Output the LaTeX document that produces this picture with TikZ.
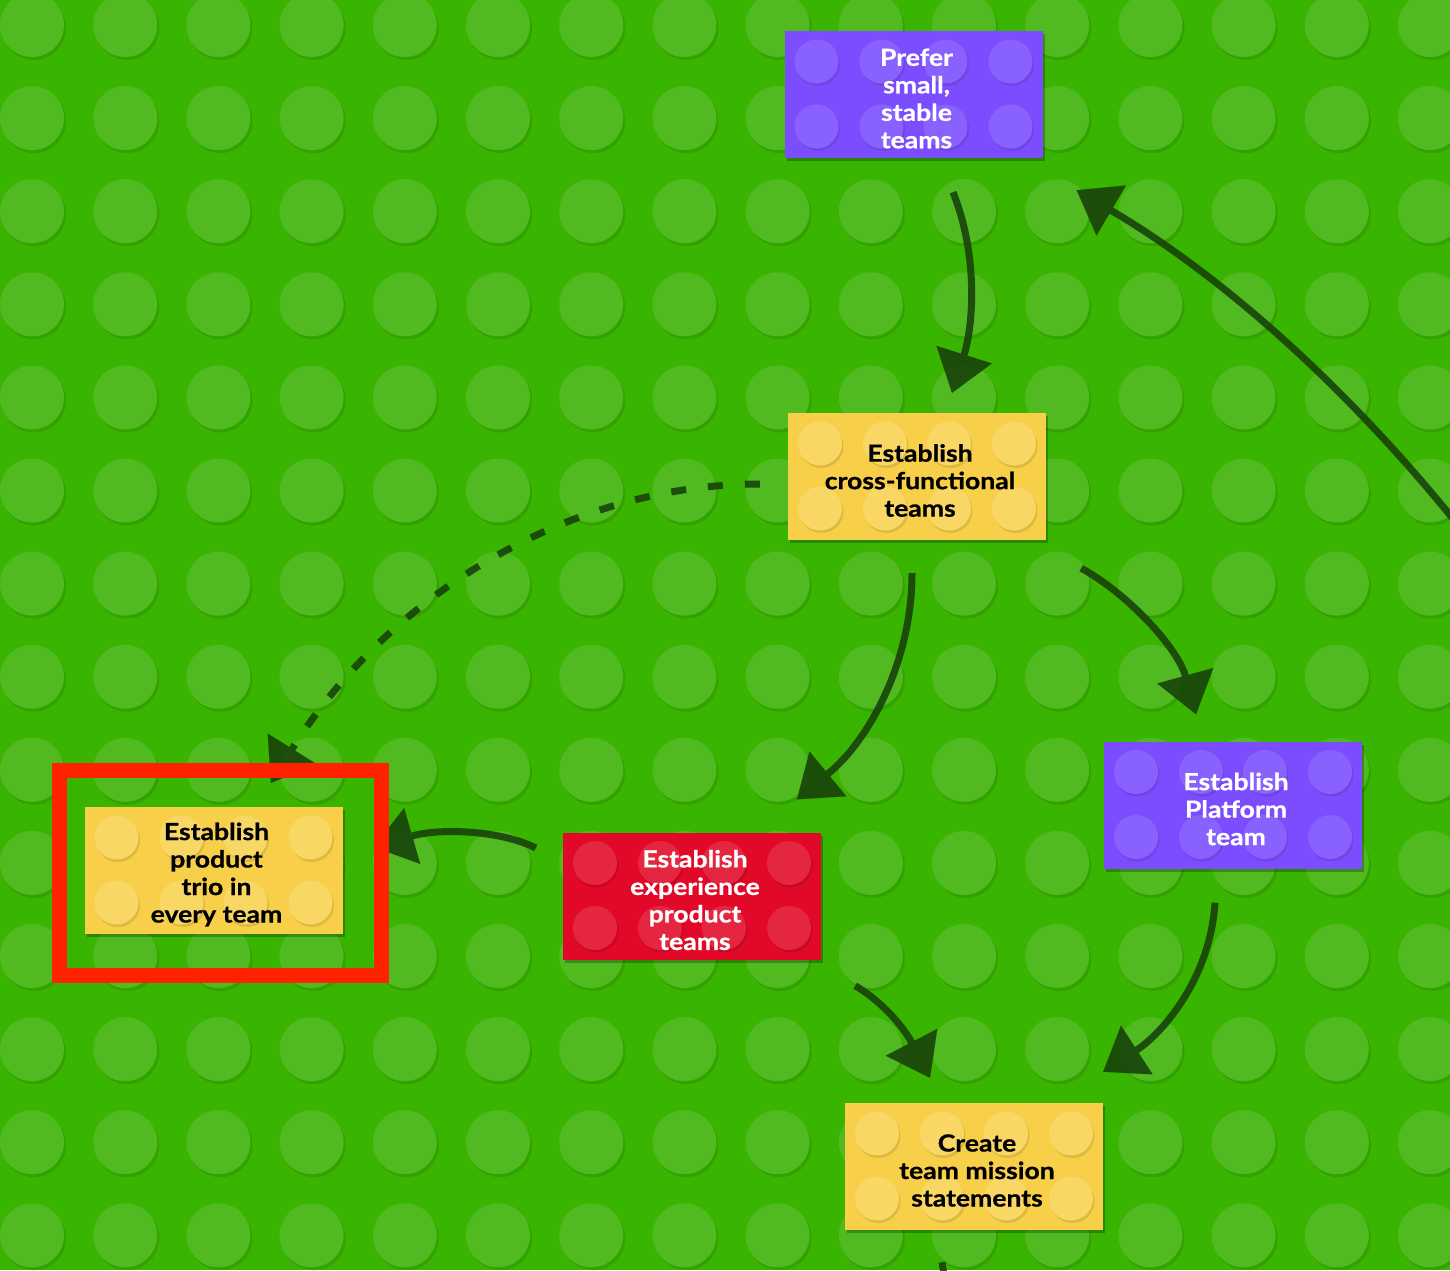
\documentclass[tikz,border=0pt]{standalone}
\usepackage{fontspec}
\setmainfont{Lato}[BoldFeatures={FakeStretch=1.13, FakeBold=0.8}]
\usetikzlibrary{arrows.meta,calc,shadows}
\definecolor{bgc}{RGB}{57,180,0}
\definecolor{studc}{RGB}{80,186,32}
\definecolor{purp}{RGB}{124,77,255}
\definecolor{purpstud}{RGB}{136,97,255}
\definecolor{redb}{RGB}{225,8,40}
\definecolor{redstud}{RGB}{228,38,64}
\definecolor{yel}{RGB}{247,207,72}
\definecolor{yelstud}{RGB}{249,215,100}
\definecolor{framec}{RGB}{255,34,0}
\definecolor{arrowc}{RGB}{22,60,10}
\newcommand{\mybrick}[7]{%
  \node[brick, fill=#3] (#1) at (#2) {};
  \foreach \dx in {-97,-32,32,97} {
    \foreach \dy in {-33,32} {
      \fill[black, opacity=0.10] ($(#1.center)+(\dx+1.5,\dy+2.5)$) circle (22pt);
      \fill[#4] ($(#1.center)+(\dx,\dy)$) circle (22pt);
    }
  }
  \node[brtext, text=#5] (#6) at ($(#1.center)+(3,4)$) {#7};
}
\begin{document}
\begin{tikzpicture}[x=1pt, y=-1pt,
  brick/.style={minimum width=258pt, minimum height=127pt, inner sep=0pt, draw=none,
    drop shadow={shadow xshift=2pt, shadow yshift=-3pt, opacity=0.25, fill=black}},
  brtext/.style={align=center, inner sep=0pt, font=\fontsize{23.5}{27.5}\selectfont\bfseries},
  conn/.style={line width=7pt, draw=arrowc, opacity=0.85,
    -{Triangle[length=40pt, width=58pt, line width=0.01pt]}},
  dashconn/.style={conn, dash pattern=on 15pt off 22pt},
  plainconn/.style={line width=7pt, draw=arrowc, opacity=0.85},
  hlframe/.style={draw=framec, line width=15pt, minimum width=322pt, minimum height=204.5pt, inner sep=0pt}
]
\clip (0,0) rectangle (1450,1270);
\fill[bgc] (0,0) rectangle (1450,1270);
% studs of the base plate
\foreach \i in {0,...,15} {
  \foreach \j in {0,...,13} {
    \fill[black, opacity=0.10] ({32+93.2*\i+2},{25+93.1*\j+3}) circle (32pt);
    \fill[studc] ({32+93.2*\i},{25+93.1*\j}) circle (32pt);
  }
}
% bricks
\mybrick{prefer}{913.5,94.5}{purp}{purpstud}{white}{prefer-t}{Prefer\\small,\\stable\\teams}
\mybrick{cross}{917,476.5}{yel}{yelstud}{black}{cross-t}{Establish\\cross-functional\\teams}
\mybrick{platform}{1233,805}{purp}{purpstud}{white}{platform-t}{Establish\\Platform\\team}
\mybrick{trio}{213.5,870.5}{yel}{yelstud}{black}{trio-t}{Establish\\product\\trio in\\every team}
\mybrick{exper}{692,896}{redb}{redstud}{white}{exper-t}{Establish\\experience\\product\\teams}
\mybrick{create}{974,1166.5}{yel}{yelstud}{black}{create-t}{Create\\team mission\\statements}
% free ends
\coordinate (offR) at (1470,540);
\coordinate (offB) at (948,1300);
% connectors
\draw[conn] ($(prefer.south)+(39.5,34)$) .. controls +(27,68) and +(20,-63) .. ($(cross.north)+(35,-20)$);
\draw[conn] (offR) .. controls +(-110,-140) and +(153,90) .. ($(prefer.south east)+(34,32)$);
\draw[dashconn] ($(cross.west)+(-28,7.5)$) .. controls +(-190,0) and +(117,-187) .. ($(trio.north)+(57.5,-24)$);
\draw[conn] ($(cross.south)+(-5,33)$) .. controls +(0,87) and +(73,-60) .. ($(exper.north)+(105,-33)$);
\draw[conn] ($(cross.south east)+(35,28)$) .. controls +(49,27) and +(-18,-65) .. ($(platform.north)+(-37,-27)$);
\draw[conn] ($(exper.west)+(-27,-48)$) .. controls +(-36,-18) and +(66,-19) .. ($(trio.east)+(31,-23.5)$);
\draw[conn] ($(exper.south east)+(34,26)$) .. controls +(30,18) and +(-25,-48) .. ($(create.north)+(-44,-25)$);
\draw[conn] ($(platform.south)+(-18,34)$) .. controls +(-5,78) and +(57,-37) .. ($(create.north east)+(0,-31)$);
\draw[plainconn] ($(create.south)+(-32,32)$) -- (offB);
% highlight frame
\node[hlframe] (hl) at (220.5,872.75) {};
\end{tikzpicture}
\end{document}
